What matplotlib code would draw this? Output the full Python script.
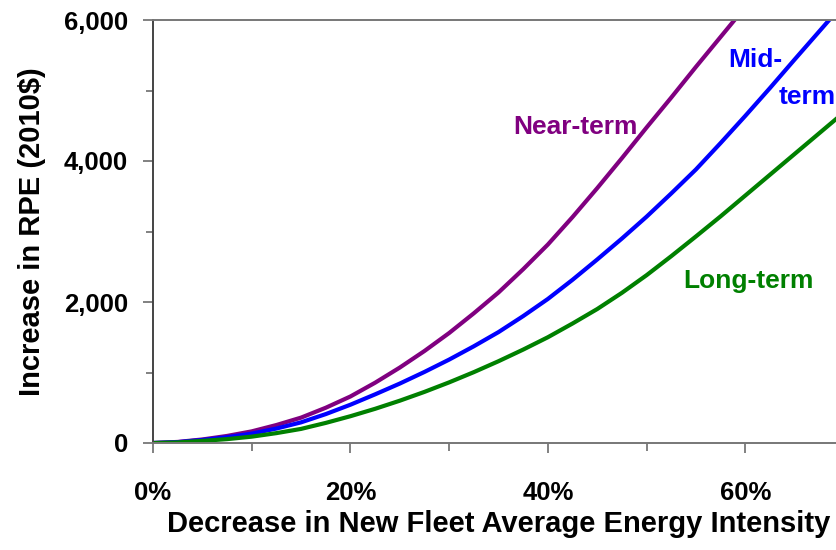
import matplotlib
matplotlib.use("Agg")
import matplotlib.pyplot as plt
from matplotlib.ticker import FixedLocator, FuncFormatter

plt.rcParams["font.family"] = ["Liberation Sans", "DejaVu Sans"]
plt.rcParams["font.weight"] = "bold"

# decrease in new fleet average energy intensity (fraction), read every 2.5%
reduction = [0.0, 0.025, 0.05, 0.075, 0.10, 0.125, 0.15, 0.175, 0.20, 0.225,
             0.25, 0.275, 0.30, 0.325, 0.35, 0.375, 0.40, 0.425, 0.45, 0.475,
             0.50, 0.525, 0.55, 0.575, 0.60, 0.625, 0.65, 0.675, 0.70]
# increase in RPE (2010$)
near_term = [0, 15, 50, 100, 165, 255, 360, 500, 660, 855,
             1070, 1305, 1560, 1840, 2135, 2465, 2815, 3205, 3615, 4040,
             4475, 4900, 5335, 5760, 6185, 6610, 7030, 7450, 7880]
mid_term = [0, 12, 43, 83, 133, 205, 293, 410, 543, 690,
            843, 1008, 1183, 1372, 1573, 1800, 2043, 2315, 2603, 2900,
            3210, 3540, 3880, 4255, 4640, 5035, 5440, 5840, 6240]
long_term = [0, 8, 30, 55, 90, 140, 200, 285, 380, 485,
             600, 725, 860, 1005, 1160, 1325, 1500, 1695, 1900, 2130,
             2380, 2650, 2930, 3215, 3510, 3805, 4100, 4395, 4690]

y_ticks = [0, 2000, 4000, 6000]
y_minor = [1000, 3000, 5000]
x_ticks = [0.0, 0.2, 0.4, 0.6]
x_minor = [0.1, 0.3, 0.5]

purple = "#800080"
blue = "#0000ff"
green = "#008000"

fig = plt.figure(figsize=(8.36, 5.5), dpi=100)
ax = fig.add_axes([153 / 836, 1 - 443 / 550, 691 / 836, 423 / 550])

ax.plot(reduction, near_term, color=purple, lw=3.0, solid_capstyle="round", solid_joinstyle="round")
ax.plot(reduction, mid_term, color=blue, lw=3.0, solid_capstyle="round", solid_joinstyle="round")
ax.plot(reduction, long_term, color=green, lw=3.0, solid_capstyle="round", solid_joinstyle="round")

ax.set_xlim(0, 0.7)
ax.set_ylim(0, 6000)

ax.yaxis.set_major_locator(FixedLocator(y_ticks))
ax.yaxis.set_minor_locator(FixedLocator(y_minor))
ax.xaxis.set_major_locator(FixedLocator(x_ticks))
ax.xaxis.set_minor_locator(FixedLocator(x_minor))
ax.yaxis.set_major_formatter(FuncFormatter(lambda v, p: f"{int(v):,}"))
ax.xaxis.set_major_formatter(FuncFormatter(lambda v, p: f"{v * 100:.0f}%"))

ax.spines["right"].set_visible(False)
for side in ["left", "bottom", "top"]:
    ax.spines[side].set_color("#777777")
    ax.spines[side].set_linewidth(1.4)
ax.spines["left"].set_color("#444444")

ax.tick_params(axis="both", which="both", direction="out", color="#777777", width=1.3)
ax.tick_params(axis="y", which="major", length=7, pad=11, labelsize=18.5)
ax.tick_params(axis="y", which="minor", length=5)
ax.tick_params(axis="x", which="major", length=7, pad=20, labelsize=18.5)
ax.tick_params(axis="x", which="minor", length=6)
for lab in ax.get_xticklabels() + ax.get_yticklabels():
    lab.set_fontweight("bold")

ax.set_xlabel("Decrease in New Fleet Average Energy Intensity", fontsize=21, fontweight="bold")
ax.xaxis.set_label_coords(0.5, -0.158)
ax.set_ylabel("Increase in RPE (2010$)", fontsize=21, fontweight="bold")
ax.yaxis.label.set_va("center")
ax.yaxis.set_label_coords(-0.175, 0.5)

ax.text(0.3645, 4383, "Near-term", color=purple, fontsize=19, fontweight="bold", va="baseline")
ax.text(0.5823, 5333, "Mid-", color=blue, fontsize=19, fontweight="bold", va="baseline")
ax.text(0.634, 4808, "term", color=blue, fontsize=19, fontweight="bold", va="baseline")
ax.text(0.5367, 2199, "Long-term", color=green, fontsize=19, fontweight="bold", va="baseline")

fig.savefig("out.png", dpi=100)
